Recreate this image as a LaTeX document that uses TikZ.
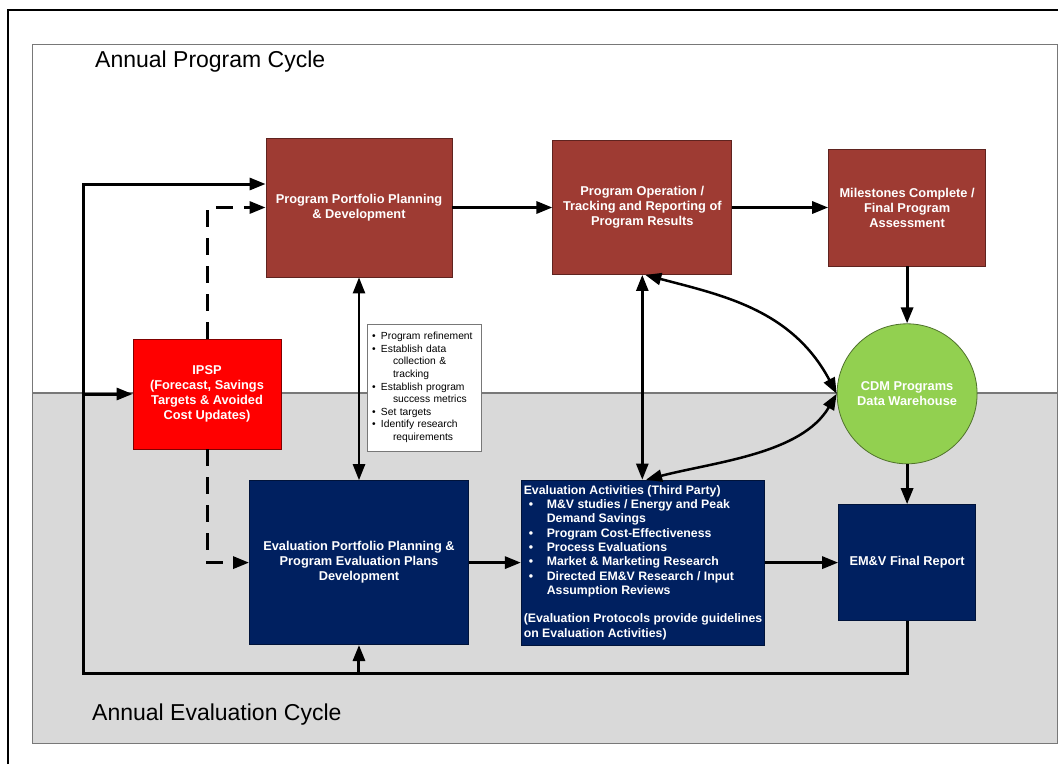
\documentclass[tikz,border=0pt]{standalone}
\usepackage{fontspec}
\setmainfont{Liberation Sans}
\usepackage{xcolor}
\usepackage{tikz}
\usetikzlibrary{arrows.meta, positioning}
\definecolor{progbrown}{RGB}{158, 59, 51}
\definecolor{evalnavy}{RGB}{0, 32, 96}
\definecolor{ipspred}{RGB}{255, 0, 0}
\definecolor{storegreen}{RGB}{146, 208, 80}
\definecolor{cyclegray}{RGB}{217, 217, 217}
\definecolor{framegray}{RGB}{120, 120, 120}

\newcommand{\boxfont}{\fontsize{12.8}{15}\selectfont\bfseries}
\newcommand{\notefont}{\fontsize{10.3}{12.6}\selectfont\mdseries}
\newcommand{\eabul}{\makebox[23pt][l]{\hspace{5pt}\textbullet}}
\newcommand{\eaind}{\hspace*{23pt}}
\newcommand{\notebul}{\makebox[9pt][l]{\textbullet}}
\newcommand{\noteind}{\hspace*{21pt}}

\begin{document}
\begin{tikzpicture}[
    x=1pt, y=-1pt,
    font=\boxfont,
    % Style definitions
    progbox/.style={draw=progbrown!60!black, fill=progbrown, text=white, align=center, line width=0.8pt, inner sep=2pt},
    evalbox/.style={draw=evalnavy!60!black, fill=evalnavy, text=white, align=center, line width=0.8pt, inner sep=2pt},
    ipspbox/.style={draw=ipspred!50!black, fill=ipspred, text=white, align=center, line width=0.8pt, inner sep=2pt},
    notebox/.style={draw=framegray, fill=white, align=left, font=\notefont, line width=0.8pt, inner xsep=5pt},
    storecircle/.style={circle, draw=storegreen!55!black, fill=storegreen, text=white, align=center, minimum size=140pt, inner sep=0pt, line width=0.8pt},
    cyclelabel/.style={font=\fontsize{23}{27}\selectfont\mdseries, anchor=base west, inner sep=0pt},
    flow/.style={-{Triangle[length=16pt, width=12pt]}, line width=3pt},
    dashflow/.style={-{Triangle[length=16pt, width=12pt]}, line width=3pt, dash pattern=on 17pt off 11pt},
    twoway/.style={{Triangle[length=16pt, width=12pt]}-{Triangle[length=16pt, width=12pt]}, line width=2.5pt}
]
    \useasboundingbox (0,0) rectangle (1058,764);

    % === BACKGROUND: the two cycles ===
    \fill [cyclegray] (32,393) rectangle (1057,743);
    \draw [framegray, line width=1.5pt] (32,393) -- (1057,393);
    \draw [framegray, line width=1pt] (32,44) rectangle (1057,743);
    \draw [line width=2pt] (8,764) -- (8,10) -- (1058,10);

    \node (prog_title) [cyclelabel] at (95,67) {Annual Program Cycle};
    \node (eval_title) [cyclelabel] at (92,720) {Annual Evaluation Cycle};

    % === TOP ROW: Program Cycle ===
    \node (ppp) [progbox, minimum width=186pt, minimum height=139pt] at (359,207.5) {Program Portfolio Planning\\\& Development};
    \node (pot) [progbox, minimum width=179pt, minimum height=134pt, right=100pt of ppp] {Program Operation /\\Tracking and Reporting of\\Program Results};
    \node (ms) [progbox, minimum width=157pt, minimum height=117pt, right=96pt of pot] {Milestones Complete /\\Final Program\\Assessment};

    \node (cdm) [storecircle, below=57pt of ms] {CDM Programs\\Data Warehouse};

    \node (ipsp) [ipspbox, minimum width=148pt, minimum height=110pt] at (207,394) {IPSP\\(Forecast, Savings\\Targets \& Avoided\\Cost Updates)};

    \node (note) [notebox, text width=104pt, minimum height=127pt] at (424,387.5) {%
        \notebul Program refinement\\
        \notebul Establish data\\
        \noteind collection \&\\
        \noteind tracking\\
        \notebul Establish program\\
        \noteind success metrics\\
        \notebul Set targets\\
        \notebul Identify research\\
        \noteind requirements};

    % === BOTTOM ROW: Evaluation Cycle ===
    \node (emv) [evalbox, minimum width=137pt, minimum height=116pt, below=40pt of cdm] {EM\&V Final Report};
    \node (ea) [evalbox, align=left, font=\fontsize{12.3}{14.3}\selectfont\bfseries, inner xsep=2.5pt, minimum width=243pt, minimum height=165pt, left=73pt of emv] {%
        Evaluation Activities (Third Party)\\
        \eabul M\&V studies / Energy and Peak\\
        \eaind Demand Savings\\
        \eabul Program Cost-Effectiveness\\
        \eabul Process Evaluations\\
        \eabul Market \& Marketing Research\\
        \eabul Directed EM\&V Research / Input\\
        \eaind Assumption Reviews\\[14.3pt]
        (Evaluation Protocols provide guidelines\\
        on Evaluation Activities)};
    \node (epp) [evalbox, minimum width=219pt, minimum height=164pt, left=52pt of ea] {Evaluation Portfolio Planning \&\\Program Evaluation Plans\\Development};

    % === CONNECTORS ===
    \draw [flow] (ppp.east) -- (ppp.east -| pot.west);
    \draw [flow] (pot.east) -- (pot.east -| ms.west);
    \draw [flow] (ms) -- (cdm);
    \draw [flow] (cdm) -- (emv);
    \draw [flow] (epp) -- (ea);
    \draw [flow] (ea.east) -- (ea.east -| emv.west);

    \draw [twoway] (ppp.south) -- (ppp.south |- epp.north);
    \draw [twoway] (pot.south) -- (pot.south |- ea.north);
    \draw [twoway] ([xshift=3pt]pot.south) .. controls +(75,20) and +(-45,-85) .. (cdm.west);
    \draw [twoway] ([xshift=3pt]ea.north) .. controls +(70,-18) and +(-35,60) .. (cdm.west);

    % feedback loop round the left side
    \coordinate (loop_bottom) at (83,673);
    \coordinate (loop_top) at (83,184);
    \draw [flow] (emv.south) |- (loop_bottom) -- (loop_top) -- (loop_top -| ppp.west);
    \draw [flow] (ipsp.west -| loop_top) -- (ipsp.west);
    \draw [flow] (epp.south |- loop_bottom) -- (epp.south);

    % IPSP updates (dashed)
    \draw [dashflow] (ipsp.north) |- (ppp.west);
    \draw [dashflow] (ipsp.south) |- (epp.west);

\end{tikzpicture}
\end{document}
